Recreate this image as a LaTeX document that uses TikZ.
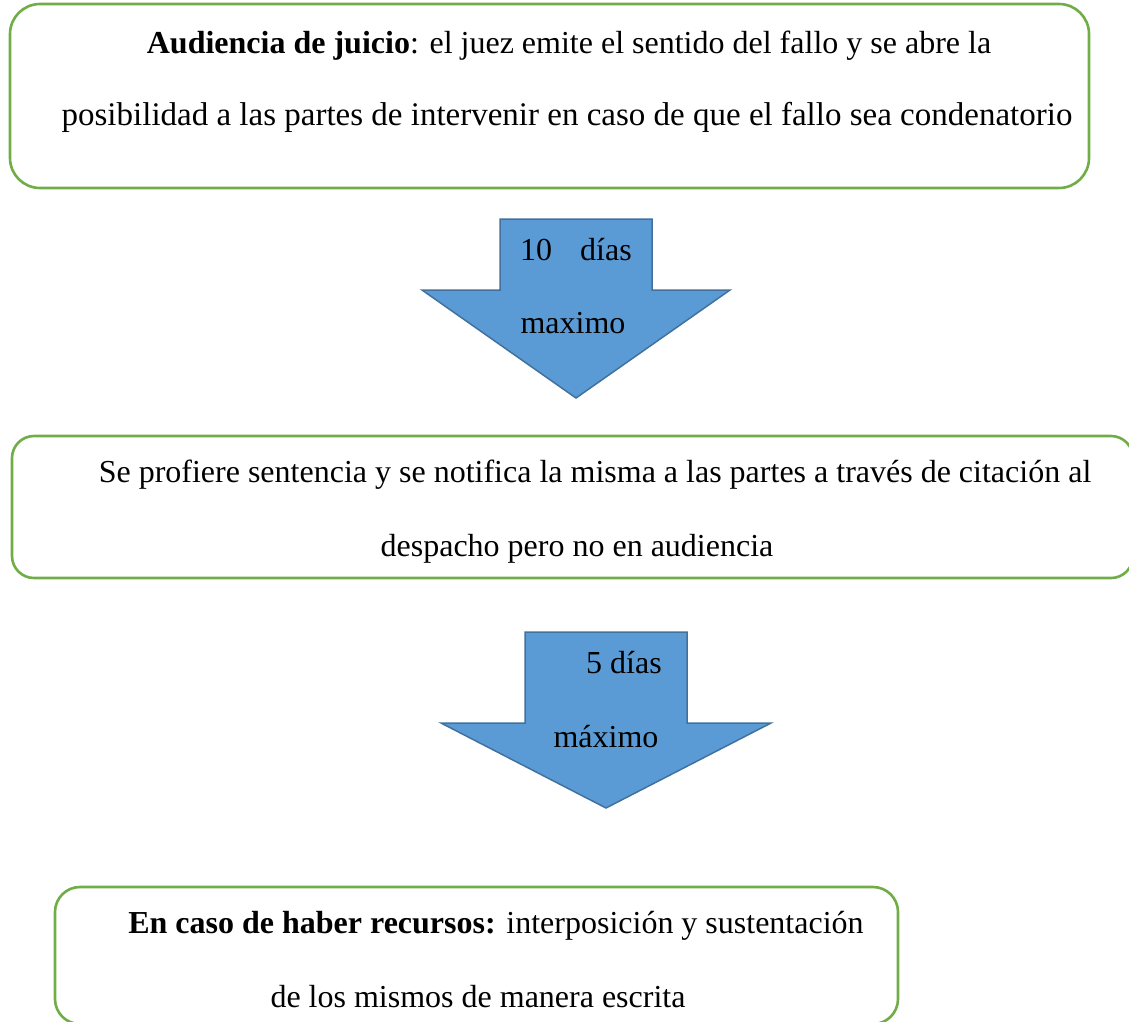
\documentclass[tikz,border=0pt]{standalone}
\usepackage{fontspec}
\setmainfont{Liberation Serif}
\begin{document}
\begin{tikzpicture}[x=1pt,y=-1pt,
  gbox/.style={draw=boxgreen, line width=2.6pt, rectangle, inner sep=0pt},
  barrow/.style={fill=arrowfill, draw=arrowedge, line width=1.5pt, line join=miter},
  txt/.style={anchor=base, inner sep=0pt, font=\fontsize{32}{38}\selectfont}]
\definecolor{boxgreen}{HTML}{70AD47}
\definecolor{arrowfill}{HTML}{5B9BD5}
\definecolor{arrowedge}{HTML}{41719C}
\useasboundingbox (0,0) rectangle (1129,1021);
\clip (0,0) rectangle (1129,1021);
% boxes
\node[gbox, rounded corners=30pt, minimum width=1079pt, minimum height=184pt] (b1) at (549.5,96) {};
\node[gbox, rounded corners=22pt, minimum width=1121pt, minimum height=142pt] (b2) at (572.5,507) {};
\node[gbox, rounded corners=25pt, minimum width=843pt, minimum height=137pt] (b3) at (476.5,955.5) {};
% arrows
\draw[barrow] (500,219) -- (652,219) -- (652,290) -- (730,290) -- (576,398) -- (422,290) -- (500,290) -- cycle;
\draw[barrow] (525,632) -- (687,632) -- (687,723) -- (771,723) -- (606,808) -- (441,723) -- (525,723) -- cycle;
% texts
\node[txt] (t1) at (569,53) {\textbf{Audiencia de juicio}: el juez emite el sentido del fallo y se abre la};
\node[txt, font=\fontsize{33}{39}\selectfont] (t2) at (567,125) {posibilidad a las partes de intervenir en caso de que el fallo sea condenatorio};
\node[txt] (t3) at (576,260) {10\hspace{20pt} días};
\node[txt] (t4) at (573,333) {maximo};
\node[txt] (t5) at (595,482) {Se profiere sentencia y se notifica la misma a las partes a través de citación al};
\node[txt] (t6) at (577,556) {despacho pero no en audiencia};
\node[txt] (t7) at (624,673) {5 días};
\node[txt] (t8) at (606,747) {máximo};
\node[txt] (t9) at (496,933) {\textbf{En caso de haber recursos:} interposición y sustentación};
\node[txt] (t10) at (478,1007) {de los mismos de manera escrita};
\end{tikzpicture}
\end{document}
